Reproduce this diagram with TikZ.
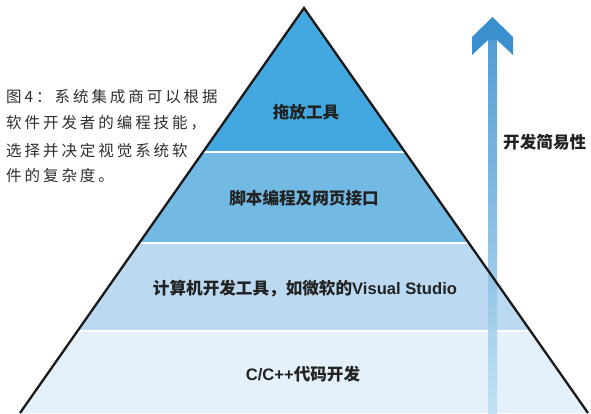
\documentclass[tikz,border=0pt]{standalone}
\usepackage{fontspec}
\newfontfamily\cjk{Noto Sans CJK SC}
\newfontfamily\cjkcap[LetterSpace=19]{Noto Sans CJK SC}
\newfontfamily\lat{Liberation Sans}
\definecolor{layerA}{HTML}{42A8DF}
\definecolor{layerB}{HTML}{72B9E4}
\definecolor{layerC}{HTML}{BBDAF2}
\definecolor{layerD}{HTML}{E4F0FA}
\definecolor{arrowtop}{HTML}{3A8FCF}
\definecolor{arrowmid}{HTML}{6CBFE8}
\definecolor{arrowbot}{HTML}{BEE0F3}
\definecolor{captext}{HTML}{2E2E2E}
\definecolor{labtext}{HTML}{222222}
\begin{document}
\begin{tikzpicture}[x=1pt,y=-1pt,
  layerlabel/.style={font=\cjk\bfseries\fontsize{16.6}{18}\selectfont, text=labtext, inner sep=0pt},
  captionline/.style={font=\cjkcap\fontsize{15.5}{17}\selectfont, text=captext, anchor=base west, inner sep=0pt},
  divider/.style={white, line width=2.4pt},
  outline/.style={draw=black!90, line width=2.3pt, line join=miter}]
\useasboundingbox (0,0) rectangle (591,413);
\coordinate (apex) at (304,8);
\coordinate (bl) at (20,413);
\coordinate (br) at (588,413);
% layers
\begin{scope}
  \clip (apex) -- (br) -- (bl) -- cycle;
  \fill[layerA] (0,0) rectangle (591,152);
  \fill[layerB] (0,152) rectangle (591,243);
  \fill[layerC] (0,243) rectangle (591,331);
  \fill[layerD] (0,331) rectangle (591,414);
  \draw[divider] (0,152) -- (591,152);
  \draw[divider] (0,243) -- (591,243);
  \draw[divider] (0,331) -- (591,331);
\end{scope}
% arrow
\shade[top color=arrowtop, middle color=arrowmid, bottom color=arrowbot, fill opacity=0.88]
  (488,38) rectangle (497,413);
\fill[arrowtop] (492.5,17) -- (513,37) -- (513,55) -- (497,40) -- (488,40) -- (472,55) -- (472,37) -- cycle;
% outline
\draw[outline] (bl) -- (apex) -- (br);
% labels
\node[layerlabel] (l1) at (306,112) {拖放工具};
\node[layerlabel] (l2) at (304,198) {脚本编程及网页接口};
\node[layerlabel] (l3) at (305,289) {计算机开发工具，如微软的{\lat\bfseries Visual Studio}};
\node[layerlabel] (l4) at (303,374) {{\lat\bfseries C/C++}代码开发};
\node[layerlabel, anchor=west] (ease) at (503,142) {开发简易性};
% caption
\node[captionline] (cap1) at (6,102) {图4：系统集成商可以根据};
\node[captionline] (cap2) at (6,128) {软件开发者的编程技能，};
\node[captionline] (cap3) at (6,156) {选择并决定视觉系统软};
\node[captionline] (cap4) at (6,181) {件的复杂度。};
\end{tikzpicture}
\end{document}
